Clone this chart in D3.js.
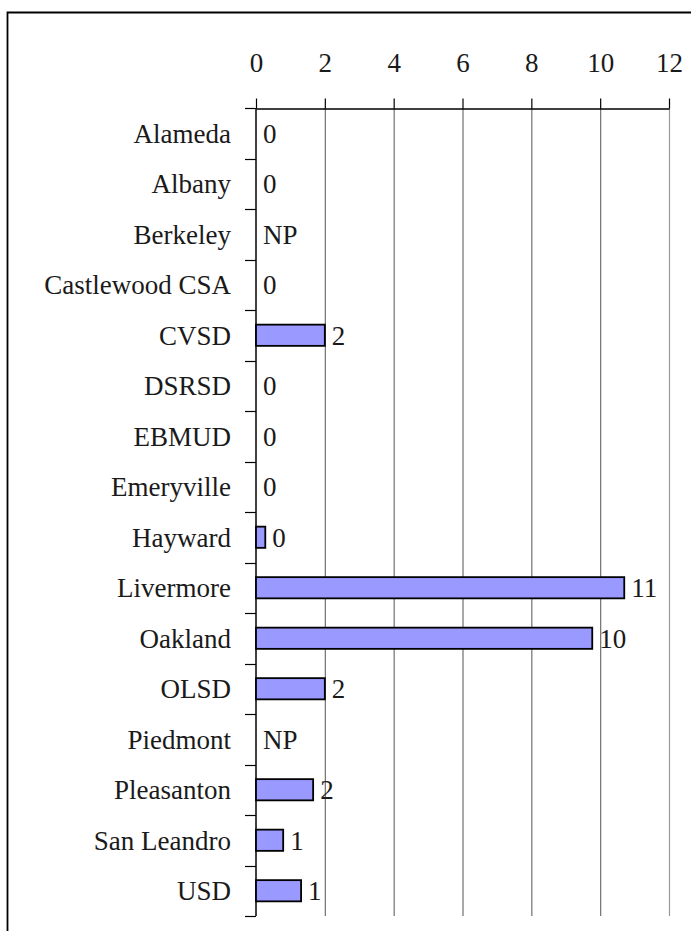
<!DOCTYPE html>
<html>
<head>
<meta charset="utf-8">
<script src="https://cdn.jsdelivr.net/npm/d3@7"></script>
<style>
  body { margin: 0; background: #fff; }
  text { font-family: "Liberation Serif", "DejaVu Serif", serif; fill: #1a1a1a; }
</style>
</head>
<body>
<div id="chart-container"></div>
<script>
// agencies, top to bottom
const categories = ["Alameda", "Albany", "Berkeley", "Castlewood CSA", "CVSD", "DSRSD",
  "EBMUD", "Emeryville", "Hayward", "Livermore", "Oakland", "OLSD", "Piedmont",
  "Pleasanton", "San Leandro", "USD"];
// null = not participating (shown as NP)
const values = [0, 0, null, 0, 2.0, 0, 0, 0, 0.27, 10.7, 9.77, 2.0, null, 1.66, 0.79, 1.31];
const xTicks = [0, 2, 4, 6, 8, 10, 12];

var width = 691;
var height = 931;
var fontSize = 27;

var svg = d3.select("#chart-container")
  .append("svg")
  .attr("width", width)
  .attr("height", height);

// outer frame (left + top edges visible)
svg.append("path")
  .attr("d", "M7.5,931V12.5H691")
  .attr("fill", "none")
  .attr("stroke", "#000")
  .attr("stroke-width", 1.8);

var x = d3.scaleLinear()
  .domain([0, 12])
  .range([256, 669]);

var y = d3.scaleBand()
  .domain(categories)
  .range([108, 916])
  .paddingInner(0.58)
  .paddingOuter(0.29);

var plotTop = y.range()[0];
var plotBottom = y.range()[1];

// vertical gridlines
svg.selectAll("gridLines")
  .data(xTicks.filter(d => d > 0))
  .enter()
  .append("line")
  .attr("x1", d => x(d) + 0.5)
  .attr("x2", d => x(d) + 0.5)
  .attr("y1", plotTop)
  .attr("y2", plotBottom)
  .attr("stroke", (d) => d === 12 ? "#999" : "#707070")
  .attr("stroke-width", 1.2);

// top axis
var xAxis = svg.append("g")
  .attr("transform", "translate(0," + (plotTop + 0.5) + ")")
  .call(d3.axisTop(x).tickValues(xTicks).tickSize(10).tickPadding(27).tickSizeOuter(0));

xAxis.select(".domain").attr("stroke", "#000").attr("stroke-width", 1.5);
xAxis.selectAll(".tick line").attr("stroke", "#000").attr("stroke-width", 1.2);
xAxis.selectAll(".tick text")
  .style("font-family", "Liberation Serif")
  .style("font-size", fontSize + "px")
  .attr("fill", "#1a1a1a");

// category axis: vertical line plus ticks at band boundaries
svg.append("line")
  .attr("x1", x(0))
  .attr("x2", x(0))
  .attr("y1", plotTop)
  .attr("y2", plotBottom)
  .attr("stroke", "#000")
  .attr("stroke-width", 1.5);

var boundaries = d3.range(categories.length + 1).map(i => plotTop + i * y.step());

svg.selectAll("catTicks")
  .data(boundaries)
  .enter()
  .append("line")
  .attr("x1", x(0) - 11)
  .attr("x2", x(0))
  .attr("y1", d => Math.round(d) + 0.5)
  .attr("y2", d => Math.round(d) + 0.5)
  .attr("stroke", "#000")
  .attr("stroke-width", 1.2);

svg.selectAll("catLabels")
  .data(categories)
  .enter()
  .append("text")
  .attr("x", 231)
  .attr("y", d => y(d) + y.bandwidth() / 2)
  .attr("dy", "0.35em")
  .style("text-anchor", "end")
  .style("font-size", fontSize + "px")
  .text(d => d);

// bars
var rows = categories.map((c, i) => ({ label: c, value: values[i] }));

svg.selectAll("bars")
  .data(rows.filter(d => d.value))
  .enter()
  .append("rect")
  .attr("x", x(0))
  .attr("y", d => y(d.label))
  .attr("width", d => x(d.value) - x(0))
  .attr("height", y.bandwidth())
  .attr("fill", "#9999FF")
  .attr("stroke", "#000")
  .attr("stroke-width", 1.8);

// value labels
svg.selectAll("valueLabels")
  .data(rows)
  .enter()
  .append("text")
  .attr("x", d => x(d.value || 0) + 7)
  .attr("y", d => y(d.label) + y.bandwidth() / 2)
  .attr("dy", "0.35em")
  .style("font-size", fontSize + "px")
  .text(d => d.value === null ? "NP" : d3.format(".0f")(d.value));
</script>
</body>
</html>
